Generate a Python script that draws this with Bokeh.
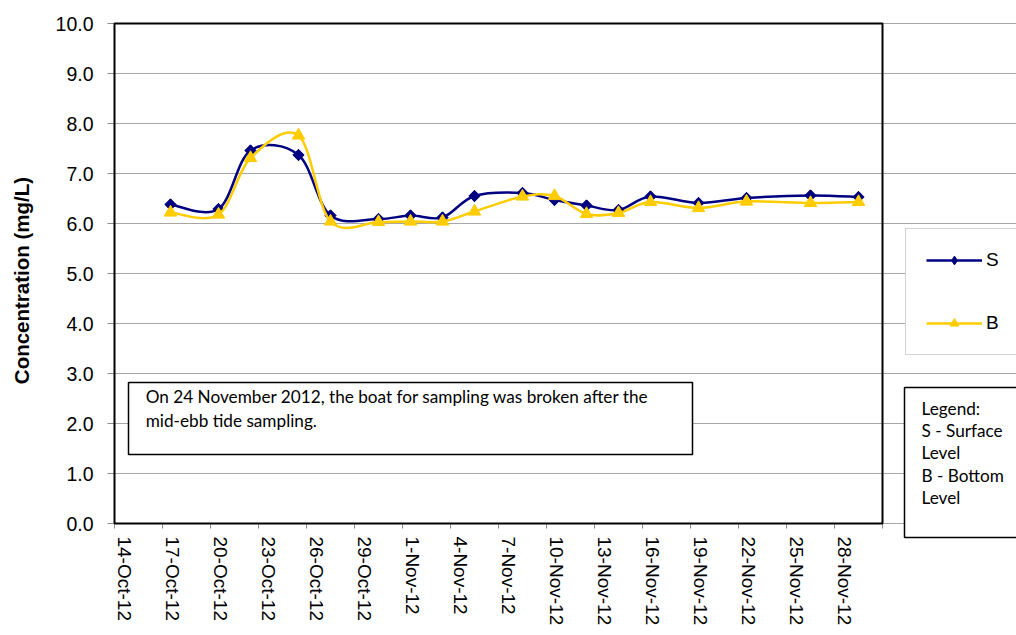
import numpy as np
import pandas as pd
from bokeh.plotting import figure
from bokeh.models import (Range1d, FixedTicker, NumeralTickFormatter, Legend, LegendItem,
                          Label, BoxAnnotation, ColumnDataSource)
from bokeh.embed import file_html
from bokeh.resources import INLINE

# ---------------- data ----------------
axis_start = "14-Oct-12"
axis_end = "1-Dec-12"
tick_labels = ["14-Oct-12", "17-Oct-12", "20-Oct-12", "23-Oct-12", "26-Oct-12", "29-Oct-12",
               "1-Nov-12", "4-Nov-12", "7-Nov-12", "10-Nov-12", "13-Nov-12", "16-Nov-12",
               "19-Nov-12", "22-Nov-12", "25-Nov-12", "28-Nov-12"]
dates = ["17-Oct-12", "20-Oct-12", "22-Oct-12", "25-Oct-12", "27-Oct-12", "30-Oct-12",
         "1-Nov-12", "3-Nov-12", "5-Nov-12", "8-Nov-12", "10-Nov-12", "12-Nov-12",
         "14-Nov-12", "16-Nov-12", "19-Nov-12", "22-Nov-12", "26-Nov-12", "29-Nov-12"]
s_vals = [6.38, 6.29, 7.46, 7.37, 6.16, 6.09, 6.16, 6.12, 6.55, 6.61, 6.47, 6.36,
          6.27, 6.54, 6.41, 6.51, 6.56, 6.53]
b_vals = [6.22, 6.18, 7.31, 7.76, 6.04, 6.03, 6.04, 6.04, 6.24, 6.54, 6.55, 6.19,
          6.21, 6.43, 6.31, 6.44, 6.41, 6.43]
y_ticks = [0, 1, 2, 3, 4, 5, 6, 7, 8, 9, 10]
series_names = ["S", "B"]
y_label = "Concentration (mg/L)"
note_text = "On 24 November 2012, the boat for sampling was broken after the\nmid-ebb tide sampling."
legend_note = "Legend:\nS - Surface\nLevel\nB - Bottom\nLevel"

# ---------------- helpers ----------------
FMT = "%d-%b-%y"
start = pd.to_datetime(axis_start, format=FMT)


def day_offsets(strs):
    return np.array([(pd.to_datetime(s, format=FMT) - start).days for s in strs], dtype=float)


def smooth_source(x, y):
    """Bezier control points (Excel-like smoothing) computed from the data."""
    x = np.asarray(x, float)
    y = np.asarray(y, float)
    n = len(x)
    xp = np.concatenate([[x[0]], x, [x[-1]]])
    yp = np.concatenate([[y[0]], y, [y[-1]]])
    return ColumnDataSource(dict(
        x0=xp[1:n], y0=yp[1:n], x1=xp[2:n + 1], y1=yp[2:n + 1],
        cx0=xp[1:n] + (xp[2:n + 1] - xp[0:n - 1]) / 6.0,
        cy0=yp[1:n] + (yp[2:n + 1] - yp[0:n - 1]) / 6.0,
        cx1=xp[2:n + 1] - (xp[3:n + 2] - xp[1:n]) / 6.0,
        cy1=yp[2:n + 1] - (yp[3:n + 2] - yp[1:n]) / 6.0,
    ))


x_pts = day_offsets(dates) + 0.5          # points sit in the middle of each day slot
tick_pos = day_offsets(tick_labels)
x_end = float(day_offsets([axis_end])[0])
minor_pos = list(np.arange(0, x_end + 0.1, 3.0))
label_pos = [float(t) + 0.62 for t in tick_pos]

NAVY = "#000080"
GOLD = "#FFCC00"
GRID = "#a6a6a6"
FONT = "Liberation Sans"

# The frame is widened to the right/bottom so the boxes beside the chart are not clipped;
# the visible plot area is outlined by a box spanning the axis ranges.
PX_PER_DAY = 16.0
PX_PER_UNIT = 50.0
FRAME_W, FRAME_H = 904, 518
x0_range = -2 / PX_PER_DAY
y1_range = 10 + 2 / PX_PER_UNIT
x_range = Range1d(x0_range, x0_range + FRAME_W / PX_PER_DAY)
y_range = Range1d(y1_range - FRAME_H / PX_PER_UNIT, y1_range)

p = figure(frame_width=FRAME_W, frame_height=FRAME_H,
           x_range=x_range, y_range=y_range,
           output_backend="svg", toolbar_location=None,
           min_border_left=112, min_border_right=0,
           min_border_top=21, min_border_bottom=96)
p.background_fill_color = "white"
p.border_fill_color = "white"
p.outline_line_color = None

# grid (only across the plot area)
p.xgrid.visible = False
p.ygrid.ticker = FixedTicker(ticks=y_ticks)
p.ygrid.grid_line_color = GRID
p.ygrid.grid_line_width = 1
p.ygrid.bounds = (0, x_end)

# y axis
p.yaxis.ticker = FixedTicker(ticks=y_ticks)
p.yaxis.formatter = NumeralTickFormatter(format="0.0")
p.yaxis.axis_line_color = None
p.yaxis.major_tick_out = 5
p.yaxis.major_tick_in = 2
p.yaxis.major_tick_line_color = "#8c8c8c"
p.yaxis.minor_tick_line_color = None
p.yaxis.major_label_standoff = 14
p.yaxis.major_label_text_font = FONT
p.yaxis.major_label_text_font_size = "19.5px"
p.yaxis.major_label_text_color = "black"
p.yaxis.axis_label = y_label
p.yaxis.axis_label_text_font = FONT
p.yaxis.axis_label_text_font_size = "20.5px"
p.yaxis.axis_label_text_font_style = "bold"
p.yaxis.axis_label_text_color = "black"
p.yaxis.axis_label_standoff = 20

# x axis (labels only; tick marks drawn on the plot-area edge below)
p.xaxis.ticker = FixedTicker(ticks=label_pos)
p.xaxis.major_label_overrides = {lp: lab for lp, lab in zip(label_pos, tick_labels)}
p.xaxis.axis_line_color = None
p.xaxis.major_tick_out = 0
p.xaxis.major_tick_in = 0
p.xaxis.major_tick_line_color = None
p.xaxis.minor_tick_line_color = None
p.xaxis.major_label_orientation = "vertical"
p.xaxis.major_label_standoff = -3
p.xaxis.major_label_text_font = FONT
p.xaxis.major_label_text_font_size = "19px"
p.xaxis.major_label_text_color = "black"

# x tick marks on the bottom edge of the plot area
p.segment(x0=minor_pos, x1=minor_pos, y0=[0.0] * len(minor_pos), y1=[-0.1] * len(minor_pos),
          line_color="#8c8c8c", line_width=1)

# series
s_curve = p.bezier(x0="x0", y0="y0", x1="x1", y1="y1", cx0="cx0", cy0="cy0", cx1="cx1", cy1="cy1",
                   source=smooth_source(x_pts, s_vals), line_color=NAVY, line_width=2.5)
s_leg = p.scatter(x_pts, s_vals, marker="diamond", size=11,
                  fill_color=NAVY, line_color=NAVY, line_width=1)
s_pts = p.scatter(x_pts, s_vals, marker="square", angle=np.pi / 4, size=8,
                  fill_color=NAVY, line_color=NAVY, line_width=1)
b_curve = p.bezier(x0="x0", y0="y0", x1="x1", y1="y1", cx0="cx0", cy0="cy0", cx1="cx1", cy1="cy1",
                   source=smooth_source(x_pts, b_vals), line_color=GOLD, line_width=2.5)
b_pts = p.scatter(x_pts, b_vals, marker="triangle", size=12.5,
                  fill_color=GOLD, line_color=GOLD, line_width=1)

# plot-area border
p.add_layout(BoxAnnotation(left=0, right=x_end, bottom=0, top=10,
                           fill_color=None, fill_alpha=0,
                           line_color="black", line_alpha=1.0, line_width=2))

# note box inside the plot
p.add_layout(BoxAnnotation(left=0.875, right=36.125, bottom=1.38, top=2.82,
                           fill_color="white", fill_alpha=1.0,
                           line_color="black", line_alpha=1.0, line_width=1.5))
p.add_layout(Label(x=1.95, y=2.75, text=note_text, text_align="left", text_baseline="top",
                   text_font="Lato", text_font_size="17.2px", text_color="black",
                   text_line_height=1.12))

# series legend (right of the plot area)
legend = Legend(items=[LegendItem(label=series_names[0], renderers=[s_curve, s_leg]),
                       LegendItem(label=series_names[1], renderers=[b_curve, b_pts])],
                location=(793, 184), orientation="vertical",
                padding=20, spacing=41, margin=0,
                glyph_width=56, glyph_height=22, label_height=22, label_width=40,
                label_standoff=4,
                label_text_font=FONT, label_text_font_size="19px", label_text_color="black",
                border_line_color=GRID, border_line_width=1,
                background_fill_color="white", background_fill_alpha=1.0)
p.add_layout(legend)

# text legend box (right of the plot area)
p.add_layout(Label(x=792, y=152, x_units="screen", y_units="screen", text=legend_note,
                   text_align="left", text_baseline="top",
                   text_font="Lato", text_font_size="17.2px", text_color="black",
                   text_line_height=1.07,
                   padding=dict(left=17, right=120, top=10, bottom=29),
                   border_line_color="black", border_line_width=1.5,
                   background_fill_color="white", background_fill_alpha=1.0))

open("out.html", "w").write(file_html(p, INLINE))
